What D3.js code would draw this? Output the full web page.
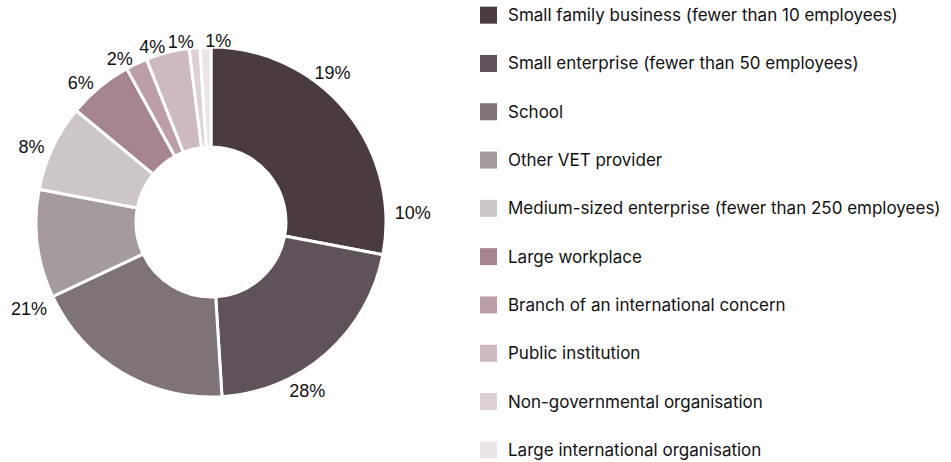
<!doctype html>
<html lang="en">
<head>
  <meta charset="utf-8">
  <title>Donut chart</title>
  <script src="https://d3js.org/d3.v7.min.js"></script>
  <style>
    body { margin: 0; background: #fff; }
  </style>
</head>
<body>
  <div id='my_chart'></div>
<script>
  var categories = [
    "Small family business (fewer than 10 employees)",
    "Small enterprise (fewer than 50 employees)",
    "School",
    "Other VET provider",
    "Medium-sized enterprise (fewer than 250 employees)",
    "Large workplace",
    "Branch of an international concern",
    "Public institution",
    "Non-governmental organisation",
    "Large international organisation"
  ];
  // slice sizes (percent), in legend order
  var values = [28, 21, 19, 10, 8, 6, 2, 4, 1, 1];
  // percentage labels as they appear round the ring
  var label_values = [19, 10, 28, 21, 8, 6, 2, 4, 1, 1];
  var colors = ["#4a3a42", "#5f525a", "#7f7379", "#a49a9f", "#cdc6c9",
                "#a6858f", "#bb9ea8", "#cdb9c0", "#ddd1d6", "#ece5e8"];

  var width = 951;
  var height = 462;
  var cx = 211, cy = 222;
  var outer_r = 175, inner_r = 75;
  var label_r = 184;

  var svg = d3.select('#my_chart').append('svg')
    .attr('width', width)
    .attr('height', height);

  var pie = d3.pie().sort(null).value(d => d);
  var arc = d3.arc().innerRadius(inner_r).outerRadius(outer_r);

  var g = svg.append('g')
    .attr('transform', 'translate(' + cx + ',' + cy + ')');

  g.selectAll('path')
    .data(pie(values))
    .enter()
    .append('path')
      .attr('d', arc)
      .style('fill', (d, i) => colors[i])
      .style('stroke', '#fff')
      .style('stroke-width', 3);

  // labels
  g.selectAll('text')
    .data(pie(label_values))
    .enter()
    .append('text')
      .each(function(d) {
        var a = (d.startAngle + d.endAngle) / 2;
        var s = Math.sin(a), c = Math.cos(a);
        d3.select(this)
          .attr('x', label_r * s)
          .attr('y', -label_r * c + 3)
          .attr('text-anchor', s < -0.05 ? 'end' : 'start');
      })
      .attr('dominant-baseline', 'central')
      .style('font-family', '"Liberation Sans", Arial, sans-serif')
      .style('font-size', '18px')
      .style('fill', '#111')
      .text(d => d.data + '%');

  // legend
  var y_scale = d3.scaleBand()
    .domain(d3.range(categories.length))
    .range([-9, 474]);

  var legend = svg.append('g')
    .selectAll('g')
    .data(categories)
    .enter()
    .append('g')
      .attr('transform', (d, i) => 'translate(480,' + (y_scale(i) + y_scale.bandwidth() / 2) + ')');

  legend.append('rect')
    .attr('x', 0)
    .attr('y', -8.5)
    .attr('width', 17)
    .attr('height', 17)
    .style('fill', (d, i) => colors[i]);

  legend.append('text')
    .attr('x', 28)
    .attr('y', 0)
    .attr('dominant-baseline', 'central')
    .style('font-family', 'Inter, "Open Sans", sans-serif')
    .style('font-size', '17px')
    .style('fill', '#111')
    .text(d => d);
</script>
</body>
</html>
